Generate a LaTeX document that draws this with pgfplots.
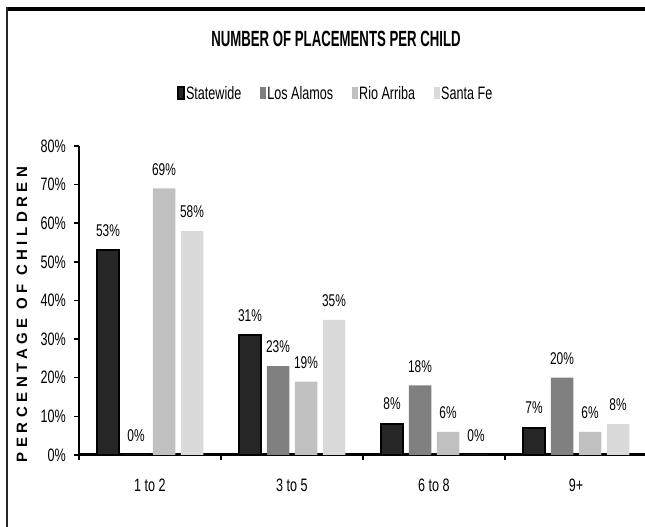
\documentclass[border=0pt]{standalone}
\usepackage{pgfplots}
\pgfplotsset{compat=1.18}
\usepackage{fontspec}
\setmainfont{Liberation Sans}[FakeStretch=0.7]
\newfontfamily\titlefont{Liberation Sans}[FakeStretch=0.6]
\newfontfamily\ylabfont{Liberation Sans}[LetterSpace=30]

\definecolor{cState}{HTML}{262626}
\definecolor{cLos}{HTML}{808080}
\definecolor{cRio}{HTML}{C0C0C0}
\definecolor{cSanta}{HTML}{DADADA}

\begin{document}
\begin{tikzpicture}
% outer frame (only top and left edges are visible)
\draw[line width=3.5pt,black] (6pt,518pt) -- (700pt,518pt);
\draw[line width=2pt,black!85] (7pt,519.5pt) -- (7pt,-50pt);

\begin{axis}[
    at={(79pt,72pt)}, anchor=south west,
    scale only axis, width=568pt, height=309pt,
    xmin=0.5, xmax=4.5, ymin=0, ymax=80,
    clip=false,
    axis x line*=bottom, axis y line*=left,
    x axis line style={line width=3pt},
    y axis line style={line width=2pt},
    tick style={black, line width=1.5pt},
    tick align=outside,
    major tick length=5pt,
    xtick={0.5,1.5,2.5,3.5,4.5},
    x tick label as interval,
    xticklabels={1 to 2,3 to 5,6 to 8,9+},
    ytick={0,10,...,80},
    yticklabels={0\%,10\%,20\%,30\%,40\%,50\%,60\%,70\%,80\%},
    /pgf/number format/assume math mode=true,
    ticklabel style={font=\fontsize{18}{18}\selectfont},
    yticklabel style={anchor=east, inner sep=0pt, xshift=-8pt},
    xticklabel style={anchor=north, inner sep=0pt, yshift=-19pt},
    ybar=5.5pt, bar width=22.5pt,
    nodes near coords={\pgfmathprintnumber{\pgfplotspointmeta}\%},
    every node near coord/.append style={font=\fontsize{17}{17}\selectfont, anchor=south, inner sep=0pt, yshift=13pt, black},
    title={\titlefont\bfseries NUMBER OF PLACEMENTS PER CHILD},
    title style={at={(axis description cs:0.4525,1.327)}, anchor=center, font=\fontsize{22}{22}\selectfont},
    ylabel={\ylabfont\bfseries PERCENTAGE OF CHILDREN},
    ylabel style={at={(axis description cs:-0.1004,0.455)}, anchor=center, rotate=0, font=\fontsize{15}{15}\selectfont},
    legend columns=4,
    legend image code/.code={\fill[#1] (0pt,-6pt) rectangle (6pt,6pt);},
    legend style={at={(axis description cs:0.451,1.17)}, anchor=center, draw=none, fill=none,
        font=\fontsize{18}{18}\selectfont, inner sep=0pt,
        nodes={inner sep=1.5pt},
        /tikz/every even column/.append style={column sep=17pt}},
]
\addplot[fill=cState, draw=black, line width=2pt] coordinates {(1,53) (2,31) (3,8) (4,7)};
\addplot[fill=cLos, draw=none] coordinates {(1,0) (2,23) (3,18) (4,20)};
\addplot[fill=cRio, draw=none] coordinates {(1,69) (2,19) (3,6) (4,6)};
\addplot[fill=cSanta, draw=none] coordinates {(1,58) (2,35) (3,0) (4,8)};
\legend{Statewide,Los Alamos,Rio Arriba,Santa Fe}
\end{axis}
\pgfresetboundingbox
\useasboundingbox (0pt,0pt) rectangle (645pt,527pt);
\end{tikzpicture}
\end{document}
